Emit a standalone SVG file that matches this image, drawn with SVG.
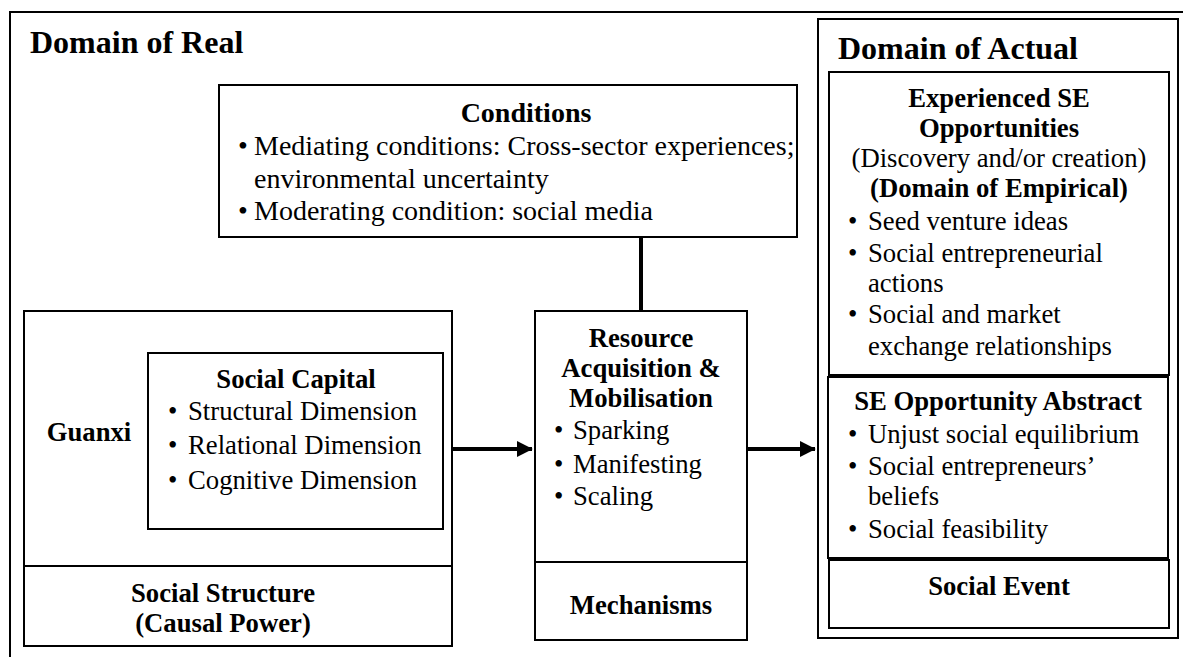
<svg xmlns="http://www.w3.org/2000/svg" width="1183" height="657" viewBox="0 0 1183 657">
<defs>
<style>
.box{fill:none;stroke:#000;stroke-width:2;}
.con{fill:none;stroke:#000;stroke-width:4;}
</style>
<marker id="ah" markerWidth="4" markerHeight="4" refX="3.8" refY="2" orient="auto" markerUnits="strokeWidth">
<path d="M0,0 L4,2 L0,4 Z" fill="#000"/>
</marker>
</defs>
<rect width="1183" height="657" fill="#fff"/>
<g id="domain-real">
<path class="box" d="M10,670 V12 H1195"/>
<text font-family="Liberation Serif" font-size="32" font-weight="bold" x="30" y="53">Domain of Real</text>
</g>
<g id="domain-actual">
<rect class="box" x="818" y="19" width="360" height="619"/>
<text font-family="Liberation Serif" font-size="32" font-weight="bold" x="838" y="59">Domain of Actual</text>
</g>
<g id="conditions" font-family="Liberation Serif" font-size="28">
<rect class="box" x="219" y="85" width="578" height="152"/>
<text font-weight="bold" text-anchor="middle" x="526" y="122">Conditions</text>
<text x="238" y="155">•</text>
<text x="254" y="155">Mediating conditions: Cross-sector experiences;</text>
<text x="254" y="188">environmental uncertainty</text>
<text x="238" y="220">•</text>
<text x="254" y="220">Moderating condition: social media</text>
</g>
<g id="guanxi" font-family="Liberation Serif" font-size="26.7">
<rect class="box" x="24" y="311" width="428" height="255"/>
<text font-weight="bold" text-anchor="middle" x="89" y="441">Guanxi</text>
</g>
<g id="social-capital" font-family="Liberation Serif" font-size="26.7">
<rect class="box" x="148" y="353" width="295" height="176"/>
<text font-weight="bold" text-anchor="middle" x="296" y="388">Social Capital</text>
<text x="168" y="420">•</text>
<text x="188" y="420">Structural Dimension</text>
<text x="168" y="454">•</text>
<text x="188" y="454">Relational Dimension</text>
<text x="168" y="489">•</text>
<text x="188" y="489">Cognitive Dimension</text>
</g>
<g id="social-structure" font-family="Liberation Serif" font-size="26.7">
<rect class="box" x="24" y="566" width="428" height="80"/>
<text font-weight="bold" text-anchor="middle" x="223" y="602">Social Structure</text>
<text font-weight="bold" text-anchor="middle" x="223" y="632">(Causal Power)</text>
</g>
<g id="resource" font-family="Liberation Serif" font-size="26.7">
<rect class="box" x="535" y="311" width="212" height="251"/>
<text font-weight="bold" text-anchor="middle" x="641" y="347">Resource</text>
<text font-weight="bold" text-anchor="middle" x="641" y="377">Acquisition &amp;</text>
<text font-weight="bold" text-anchor="middle" x="641" y="407">Mobilisation</text>
<text x="554" y="439">•</text>
<text x="573" y="439">Sparking</text>
<text x="554" y="473">•</text>
<text x="573" y="473">Manifesting</text>
<text x="554" y="505">•</text>
<text x="573" y="505">Scaling</text>
</g>
<g id="mechanisms" font-family="Liberation Serif" font-size="26.7">
<rect class="box" x="535" y="562" width="212" height="78"/>
<text font-weight="bold" text-anchor="middle" x="641" y="614">Mechanisms</text>
</g>
<g id="experienced" font-family="Liberation Serif" font-size="26.7">
<rect class="box" x="829" y="72" width="340" height="303"/>
<text font-weight="bold" text-anchor="middle" x="999" y="107">Experienced SE</text>
<text font-weight="bold" text-anchor="middle" x="999" y="137">Opportunities</text>
<text text-anchor="middle" x="999" y="167">(Discovery and/or creation)</text>
<text font-weight="bold" text-anchor="middle" x="999" y="197">(Domain of Empirical)</text>
<text x="848" y="230">•</text>
<text x="868" y="230">Seed venture ideas</text>
<text x="848" y="262">•</text>
<text x="868" y="262">Social entrepreneurial</text>
<text x="868" y="292">actions</text>
<text x="848" y="323">•</text>
<text x="868" y="323">Social and market</text>
<text x="868" y="355">exchange relationships</text>
</g>
<g id="abstract" font-family="Liberation Serif" font-size="26.7">
<rect class="box" x="828" y="377" width="340" height="181"/>
<text font-weight="bold" text-anchor="middle" x="998" y="410">SE Opportunity Abstract</text>
<text x="848" y="443">•</text>
<text x="868" y="443">Unjust social equilibrium</text>
<text x="848" y="475">•</text>
<text x="868" y="475">Social entrepreneurs’</text>
<text x="868" y="505">beliefs</text>
<text x="848" y="538">•</text>
<text x="868" y="538">Social feasibility</text>
</g>
<g id="social-event" font-family="Liberation Serif" font-size="26.7">
<rect class="box" x="829" y="560" width="340" height="68"/>
<text font-weight="bold" text-anchor="middle" x="999" y="595">Social Event</text>
</g>
<g id="connectors">
<line class="con" x1="641" y1="237" x2="641" y2="311"/>
<line class="con" x1="452" y1="449" x2="532" y2="449" marker-end="url(#ah)"/>
<line class="con" x1="747" y1="449" x2="815" y2="449" marker-end="url(#ah)"/>
</g>
</svg>
